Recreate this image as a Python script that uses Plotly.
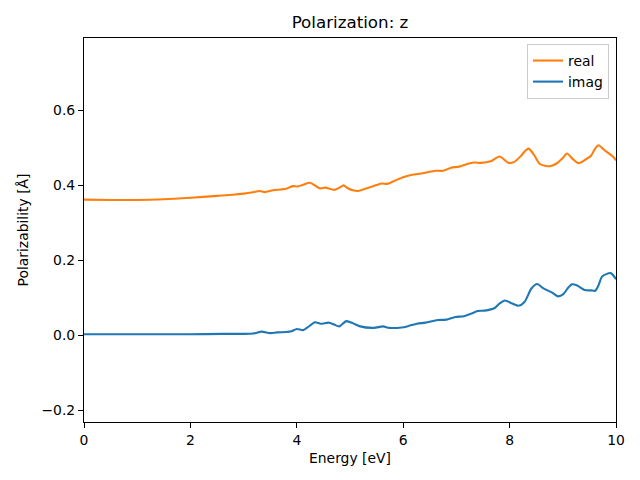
import plotly.graph_objects as go

# Energy grid [eV] and values
real_E = [0, 0.5, 1.0, 1.5, 2.0, 2.5, 2.8, 3.0, 3.15, 3.3, 3.4, 3.55, 3.7, 3.8, 3.92,
          4.02, 4.12, 4.25, 4.35, 4.44, 4.54, 4.62, 4.7, 4.8, 4.88, 4.95, 5.05, 5.15,
          5.35, 5.5, 5.6, 5.7, 5.85, 6.0, 6.2, 6.4, 6.6, 6.75, 6.9, 7.05, 7.2, 7.33,
          7.46, 7.66, 7.81, 7.98, 8.08, 8.21, 8.3, 8.36, 8.47, 8.57, 8.76, 8.89, 9.0,
          9.08, 9.19, 9.3, 9.45, 9.53, 9.6, 9.67, 9.8, 9.94, 10.0]
real_vals = [0.361, 0.360, 0.360, 0.362, 0.366, 0.371, 0.374, 0.377, 0.380, 0.384,
             0.381, 0.386, 0.388, 0.390, 0.397, 0.396, 0.401, 0.406, 0.398, 0.391,
             0.393, 0.390, 0.387, 0.393, 0.399, 0.392, 0.386, 0.384, 0.393, 0.400,
             0.404, 0.403, 0.412, 0.421, 0.428, 0.432, 0.438, 0.438, 0.446, 0.449,
             0.456, 0.460, 0.459, 0.464, 0.476, 0.459, 0.461, 0.477, 0.492, 0.497,
             0.478, 0.456, 0.450, 0.458, 0.472, 0.484, 0.469, 0.458, 0.470, 0.478,
             0.495, 0.506, 0.491, 0.476, 0.466]

imag_E = [0, 1.0, 2.0, 2.6, 3.0, 3.18, 3.34, 3.5, 3.63, 3.8, 3.9, 4.0, 4.12, 4.22,
          4.34, 4.45, 4.6, 4.7, 4.8, 4.93, 5.06, 5.19, 5.45, 5.62, 5.74, 5.97, 6.1,
          6.26, 6.42, 6.65, 6.81, 6.98, 7.14, 7.28, 7.40, 7.53, 7.72, 7.82, 7.91,
          8.05, 8.17, 8.28, 8.41, 8.52, 8.63, 8.80, 8.91, 9.01, 9.1, 9.17, 9.27,
          9.41, 9.53, 9.61, 9.67, 9.74, 9.90, 10.0]
imag_vals = [0.002, 0.002, 0.002, 0.003, 0.003, 0.004, 0.009, 0.005, 0.007, 0.008,
             0.010, 0.016, 0.013, 0.022, 0.034, 0.030, 0.033, 0.028, 0.023, 0.037,
             0.031, 0.023, 0.019, 0.023, 0.019, 0.020, 0.024, 0.030, 0.033, 0.040,
             0.041, 0.048, 0.050, 0.057, 0.064, 0.065, 0.072, 0.085, 0.092, 0.084,
             0.078, 0.088, 0.124, 0.136, 0.125, 0.113, 0.103, 0.109, 0.126, 0.135,
             0.132, 0.120, 0.119, 0.118, 0.132, 0.156, 0.165, 0.149]

x_ticks = [0, 2, 4, 6, 8, 10]
y_ticks = [-0.2, 0.0, 0.2, 0.4, 0.6]
y_tick_labels = ["\u22120.2", "0.0", "0.2", "0.4", "0.6"]

FONT = "DejaVu Sans"
W, H = 632, 472  # page body adds an 8px offset

fig = go.Figure()
fig.add_trace(go.Scatter(x=real_E, y=real_vals, mode="lines", name="real",
                         line=dict(color="#ff7f0e", width=2.1, shape="spline", smoothing=0.7)))
fig.add_trace(go.Scatter(x=imag_E, y=imag_vals, mode="lines", name="imag",
                         line=dict(color="#1f77b4", width=2.1, shape="spline", smoothing=0.7)))

axis_common = dict(showline=True, linecolor="black", linewidth=1.1, mirror=True,
                   ticks="outside", ticklen=5, tickwidth=1.1, tickcolor="black",
                   showgrid=False, zeroline=False,
                   tickfont=dict(family=FONT, size=13.9, color="black"))

fig.update_layout(
    width=W, height=H,
    margin=dict(l=76, r=24, t=30, b=58),
    paper_bgcolor="white", plot_bgcolor="white",
    font=dict(family=FONT, size=13.9, color="black"),
    title=dict(text="Polarization: z", x=342 / W, xanchor="center",
               y=1 - 14 / H, yanchor="middle", yref="container",
               font=dict(family=FONT, size=16.7, color="black")),
    xaxis=dict(range=[0, 10], tickvals=x_ticks,
               title=dict(text="Energy [eV]", standoff=6,
                          font=dict(family=FONT, size=13.9)),
               **axis_common),
    yaxis=dict(range=[-0.232, 0.792], tickvals=y_ticks, ticktext=y_tick_labels,
               title=dict(text="Polarizability [Å]", standoff=9,
                          font=dict(family=FONT, size=13.9)),
               **axis_common),
    legend=dict(x=(609 - 84) / 532, y=(422 - 44) / 384, xanchor="right", yanchor="top",
                bordercolor="#cccccc", borderwidth=1, bgcolor="rgba(255,255,255,0.8)",
                tracegroupgap=0,
                font=dict(family=FONT, size=13.9, color="black")),
    showlegend=True,
)

fig.write_html("out.html")
